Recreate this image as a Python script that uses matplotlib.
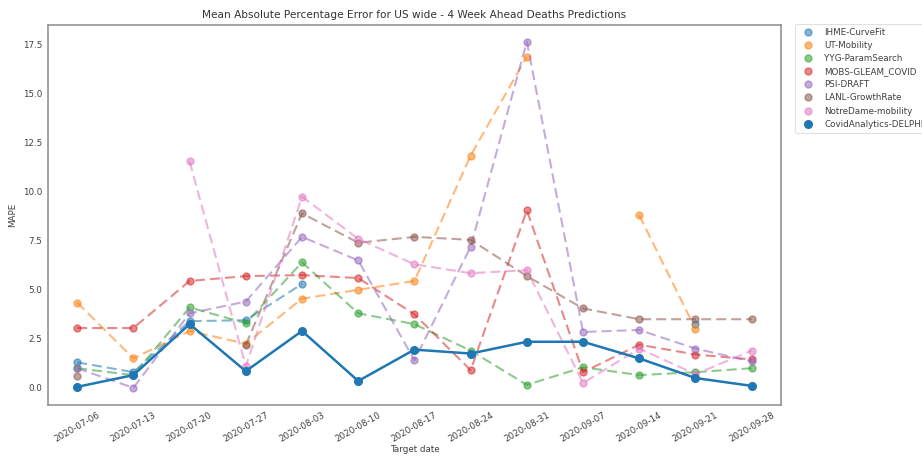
import numpy as np
import matplotlib
matplotlib.use("Agg")
import matplotlib.pyplot as plt

nan = np.nan

target_dates = ["2020-07-06", "2020-07-13", "2020-07-20", "2020-07-27", "2020-08-03",
                "2020-08-10", "2020-08-17", "2020-08-24", "2020-08-31", "2020-09-07",
                "2020-09-14", "2020-09-21", "2020-09-28"]

ihme_curvefit = [1.3, 0.8, 3.4, 3.45, 5.3, nan, nan, nan, nan, nan, nan, 3.25, nan]
ut_mobility = [4.35, 1.5, 2.9, 2.25, 4.55, 5.0, 5.45, 11.85, 16.9, nan, 8.8, 3.0, nan]
yyg_paramsearch = [1.0, 0.65, 4.1, 3.3, 6.4, 3.8, 3.25, 1.9, 0.15, 1.05, 0.65, 0.8, 1.0]
mobs_gleam = [3.05, 3.05, 5.45, 5.7, 5.75, 5.6, 3.75, 0.9, 9.05, 0.8, 2.2, 1.7, 1.45]
psi_draft = [1.0, 0.0, 3.8, 4.4, 7.7, 6.5, 1.4, 7.2, 17.65, 2.85, 2.95, 2.0, 1.35]
lanl_growthrate = [0.6, nan, nan, 2.2, 8.9, 7.4, 7.7, 7.55, 5.7, 4.05, 3.5, 3.5, 3.5]
notredame_mobility = [nan, nan, 11.55, 1.1, 9.75, 7.6, 6.3, 5.85, 6.0, 0.25, 2.0, 0.7, 1.9]
delphi = [0.05, 0.65, 3.25, 0.85, 2.9, 0.35, 1.95, 1.75, 2.35, 2.35, 1.5, 0.5, 0.1]

models = ["IHME-CurveFit", "UT-Mobility", "YYG-ParamSearch", "MOBS-GLEAM_COVID",
          "PSI-DRAFT", "LANL-GrowthRate", "NotreDame-mobility"]
others = [ihme_curvefit, ut_mobility, yyg_paramsearch, mobs_gleam,
          psi_draft, lanl_growthrate, notredame_mobility]
colors = ["#1f77b4", "#ff7f0e", "#2ca02c", "#d62728", "#9467bd", "#8c564b", "#e377c2"]

plt.rcParams["font.family"] = "DejaVu Sans"
fig = plt.figure(figsize=(9.22, 4.57), dpi=100)
ax = fig.add_axes([0.052, 0.114, 0.795, 0.831])

x = np.arange(len(target_dates))
for name, vals, c in zip(models, others, colors):
    ax.plot(x, vals, linestyle="--", dashes=(4.8, 2.4), color=c, alpha=0.55, linewidth=1.5)
    ax.plot(x, vals, linestyle="none", marker="o", markersize=5, color=c,
            alpha=0.55, label=name)

# the DELPHI model is drawn solid, on top of the others
ax.plot(x, delphi, linestyle="-", color="#1f77b4", linewidth=1.8)
ax.plot(x, delphi, linestyle="none", marker="o", markersize=5.5, color="#1f77b4",
        label="CovidAnalytics-DELPHI")

ax.set_xticks(x)
ax.set_xticklabels(target_dates, rotation=30)
ax.set_xlim(-0.52, len(x) - 0.48)
ax.set_yticks(np.arange(0, 17.6, 2.5))
ax.set_ylim(-0.87, 18.5)
ax.tick_params(length=0, labelsize=6.3, colors="0.25", pad=4)
for s in ax.spines.values():
    s.set_color("0.55")
    s.set_linewidth(1.1)

ax.set_title("Mean Absolute Percentage Error for US wide - 4 Week Ahead Deaths Predictions",
             fontsize=7.6, color="0.2", pad=5)
ax.set_xlabel("Target date", fontsize=6.3, color="0.25", labelpad=1)
ax.set_ylabel("MAPE", fontsize=6.3, color="0.25")

leg = ax.legend(loc="upper left", bbox_to_anchor=(1.019, 1.003), fontsize=6.3,
                frameon=True, handletextpad=0.9, labelspacing=0.47, borderaxespad=0,
                borderpad=0.45)
leg.get_frame().set_edgecolor("0.85")
leg.get_frame().set_linewidth(0.8)
for t in leg.get_texts():
    t.set_color("0.25")

fig.savefig("out.png", dpi=100)
